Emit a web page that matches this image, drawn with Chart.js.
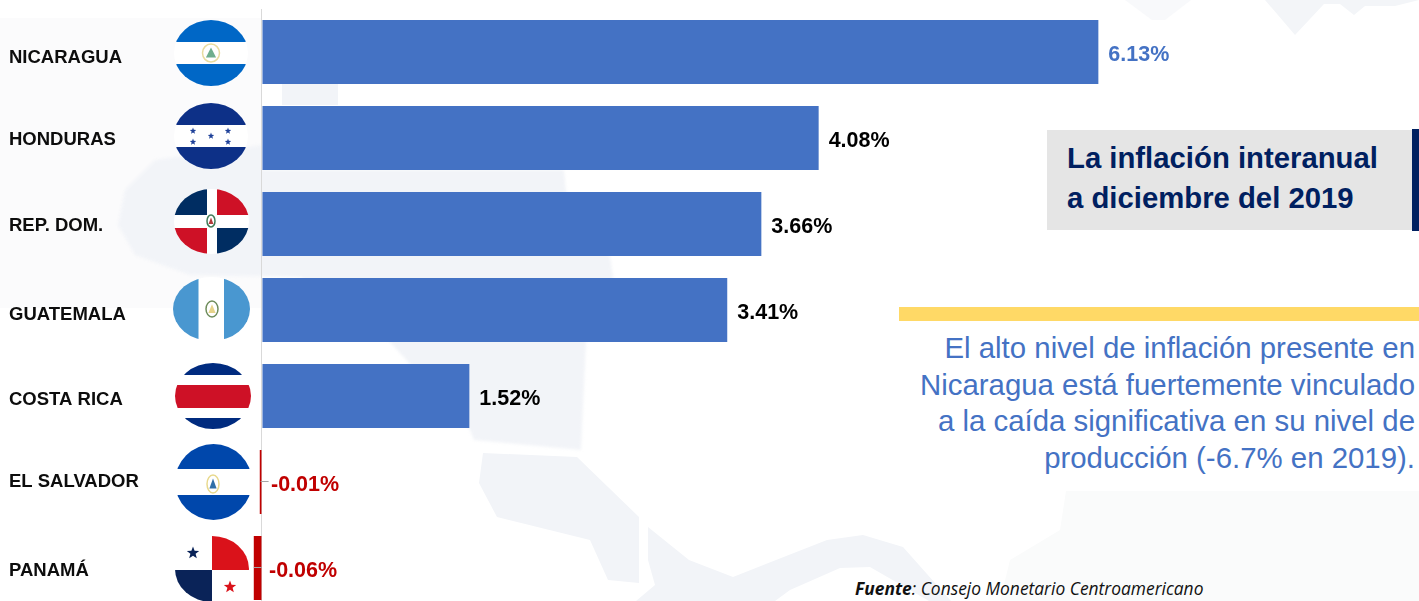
<!DOCTYPE html>
<html lang="es">
<head>
<meta charset="utf-8">
<title>Inflación interanual</title>
<script src="https://cdn.jsdelivr.net/npm/chart.js@4"></script>
<style>
    html, body { margin: 0; padding: 0; background: #fff; }
    body { width: 1419px; height: 601px; overflow: hidden; position: relative; font-family: "Liberation Sans", Arial, sans-serif; }
    #map { position: absolute; left: 0; top: 0; }
    #chartBox { position: absolute; left: 0; top: 0; width: 1419px; height: 625px; }
    .titleBox { position: absolute; left: 1047px; top: 130px; width: 365px; height: 100px; background: #e5e5e5; }
    .titleBar { position: absolute; left: 1412px; top: 129px; width: 7px; height: 102px; background: #002060; }
    .titleText { position: absolute; left: 1067px; top: 138px; font-size: 29.3px; line-height: 40px; font-weight: bold; color: #002060; white-space: nowrap; }
    .yellowBar { position: absolute; left: 899px; top: 307px; width: 520px; height: 14px; background: #ffd966; }
    .note { position: absolute; right: 4px; top: 330px; font-size: 29.4px; line-height: 36.6px; color: #4472c4; text-align: right; white-space: nowrap; }
    .source { position: absolute; left: 855px; top: 578px; font-family: "Open Sans", sans-serif; font-size: 17.4px; line-height: 20px; font-style: italic; color: #111; white-space: nowrap; }
</style>
</head>
<body>
<!-- faint map in the background -->
<svg id="map" width="1419" height="601">
    <rect x="0" y="18" width="262" height="290" fill="#fbfbfc"/>
    <polygon points="1066,491 1419,491 1419,601 1000,601 1010,560 1060,530" fill="#fafbfb"/>
    <polygon points="1125,0 1191,0 1165,20 1152,20" fill="#f8f9fb"/>
    <polygon points="1265,0 1419,0 1395,6 1365,6 1354,15 1340,4 1324,4 1295,35" fill="#f3f5f8"/>
    <polygon points="282,83 338,83 338,105 282,105" fill="#f2f4f8"/>
    <polygon style="filter:blur(1.5px)" points="118,225 125,190 155,160 262,145 262,170 564,170 566,192 610,257 613,277 586,342 581,450 474,440 470,430 390,342 300,277 190,275 135,255" fill="#f2f4f8"/>
    <polygon points="483,453 577,457 639,517 639,583 608,580 590,540 497,517 479,483" fill="#f2f4f8"/>
    <polygon points="648,527 689,560 733,577 827,540 863,535 903,547 951,601 929,601 870,567 840,568 790,590 775,601 636,601 655,585 648,560" fill="#f2f4f8"/>
</svg>

<div class="titleBox"></div>
<div class="titleBar"></div>
<div class="titleText">La inflación interanual<br>a diciembre del 2019</div>
<div class="yellowBar"></div>
<div class="note">El alto nivel de inflación presente en<br>Nicaragua está fuertemente vinculado<br>a la caída significativa en su nivel de<br>producción (-6.7% en 2019).</div>
<div class="source"><b>Fuente</b>: Consejo Monetario Centroamericano</div>

<div id="chartBox"><canvas id="myChart" width="1419" height="625"></canvas></div>

<script>
const countries = ["NICARAGUA", "HONDURAS", "REP. DOM.", "GUATEMALA", "COSTA RICA", "EL SALVADOR", "PANAMÁ"];
const inflation = [6.13, 4.08, 3.66, 3.41, 1.52, -0.01, -0.06];
// the names are not quite centred on their bars in the original
const labelShift = [6, 2, 2, 5, 4, 0, 3];

const BLUE = "#4472c4";
const RED = "#c00000";

function star(ctx, cx, cy, r, color) {
    ctx.fillStyle = color;
    ctx.beginPath();
    for (let i = 0; i < 10; i++) {
        const rad = i % 2 ? r * 0.42 : r;
        const a = -Math.PI / 2 + i * Math.PI / 5;
        ctx.lineTo(cx + rad * Math.cos(a), cy + rad * Math.sin(a));
    }
    ctx.closePath();
    ctx.fill();
}

function rect(ctx, color, x0, y0, x1, y1) {
    ctx.fillStyle = color;
    ctx.fillRect(x0, y0, x1 - x0, y1 - y0);
}

// small coat of arms, just a few dots of colour
function crest(ctx, cx, cy, rx, ry, ring, inner) {
    ctx.strokeStyle = ring;
    ctx.lineWidth = 1.5;
    ctx.beginPath();
    ctx.ellipse(cx, cy, rx, ry, 0, 0, Math.PI * 2);
    ctx.stroke();
    ctx.fillStyle = inner;
    ctx.beginPath();
    ctx.moveTo(cx, cy - ry * 0.6);
    ctx.lineTo(cx + rx * 0.6, cy + ry * 0.5);
    ctx.lineTo(cx - rx * 0.6, cy + ry * 0.5);
    ctx.closePath();
    ctx.fill();
}

function flag(ctx, x0, y0, x1, y1, paint) {
    ctx.save();
    ctx.beginPath();
    ctx.ellipse((x0 + x1) / 2, (y0 + y1) / 2, (x1 - x0) / 2, (y1 - y0) / 2, 0, 0, Math.PI * 2);
    ctx.clip();
    rect(ctx, "#ffffff", x0, y0, x1, y1);
    paint();
    ctx.restore();
}

const flagsPlugin = {
    id: "flags",
    afterDraw: (chart) => {
        const ctx = chart.ctx;
        flag(ctx, 174, 20, 248, 86, () => {
            rect(ctx, "#0067c6", 174, 20, 248, 42);
            rect(ctx, "#0067c6", 174, 64, 248, 86);
            crest(ctx, 211, 53, 8.5, 9, "#e8dca0", "#6fae8e");
        });
        flag(ctx, 174, 103, 248, 169, () => {
            rect(ctx, "#0d3087", 174, 103, 248, 125);
            rect(ctx, "#0d3087", 174, 147, 248, 169);
            [[193, 131], [228, 131], [211, 136], [193, 142], [228, 142]].forEach(p => star(ctx, p[0], p[1], 3.4, "#1f4199"));
        });
        flag(ctx, 174, 189, 249, 254, () => {
            rect(ctx, "#002d62", 174, 189, 207, 215);
            rect(ctx, "#ce1126", 217, 189, 249, 215);
            rect(ctx, "#ce1126", 174, 228, 207, 254);
            rect(ctx, "#002d62", 217, 228, 249, 254);
            crest(ctx, 211, 221, 4, 6, "#3f7a57", "#b33a3a");
        });
        flag(ctx, 173, 277, 250, 341, () => {
            rect(ctx, "#4997d0", 173, 277, 198.5, 341);
            rect(ctx, "#4997d0", 224, 277, 250, 341);
            crest(ctx, 212, 309, 6, 8, "#6f8d5c", "#e6d38a");
        });
        flag(ctx, 175, 363, 251, 429, () => {
            rect(ctx, "#002b7f", 175, 363, 251, 375);
            rect(ctx, "#ce1126", 175, 385, 251, 408);
            rect(ctx, "#002b7f", 175, 418, 251, 429);
        });
        flag(ctx, 175, 444, 252, 520, () => {
            rect(ctx, "#0047ab", 175, 444, 252, 469);
            rect(ctx, "#0047ab", 175, 495, 252, 520);
            crest(ctx, 213, 484, 6, 9, "#e8d98e", "#2f6fa8");
        });
        flag(ctx, 175, 536, 249, 602, () => {
            rect(ctx, "#da121a", 212, 536, 249, 570);
            rect(ctx, "#0a2358", 175, 570, 212, 602);
            star(ctx, 193, 553, 6.5, "#0a2358");
            star(ctx, 230, 587, 6.5, "#da121a");
        });
    }
};

// value at the end of each bar, thin leader on the negative ones
const valueLabels = {
    id: "valueLabels",
    afterUpdate: (chart) => {
        // move the tick labels a little, the items stay cached until next update
        chart.scales.y.getLabelItems().forEach((item, i) => {
            item.options.translation[1] += labelShift[i];
        });
    },
    afterDatasetsDraw: (chart) => {
        const ctx = chart.ctx;
        const x = chart.scales.x;
        const y = chart.scales.y;
        ctx.save();
        ctx.font = "bold 21.5px 'Liberation Sans', Arial, sans-serif";
        ctx.textBaseline = "middle";
        ctx.textAlign = "left";
        inflation.forEach((value, i) => {
            const py = y.getPixelForValue(i);
            const end = x.getPixelForValue(value);
            let px = end + 10;
            if (value < 0) {
                ctx.strokeStyle = "#a6a6a6";
                ctx.lineWidth = 1;
                ctx.beginPath();
                ctx.moveTo(end, py - 0.5);
                ctx.lineTo(end + 8, py - 0.5);
                ctx.stroke();
                px = x.getPixelForValue(0) + (value < -0.03 ? 7 : 9);
            }
            ctx.fillStyle = value < 0 ? RED : (i === 0 ? BLUE : "#000000");
            ctx.fillText(value.toFixed(2) + "%", px, py + 3.5);
        });
        ctx.restore();
    }
};

const myChart = new Chart(document.getElementById("myChart"), {
    type: "bar",
    data: {
        labels: countries,
        datasets: [{
            data: inflation,
            backgroundColor: inflation.map(v => v < 0 ? RED : BLUE),
            barPercentage: 0.745,
            categoryPercentage: 1,
            minBarLength: 2.2
        }]
    },
    options: {
        indexAxis: "y",
        responsive: false,
        animation: false,
        devicePixelRatio: 1,
        layout: { padding: { top: 9, left: 9, right: 0, bottom: 14 } },
        plugins: {
            legend: { display: false },
            tooltip: { enabled: false }
        },
        scales: {
            x: {
                min: -0.5,
                max: 8.48,
                ticks: { display: false, stepSize: 1 },
                border: { display: false },
                grid: {
                    drawTicks: false,
                    lineWidth: 1,
                    color: (c) => c.tick && c.tick.value === 0 ? "#d9d9d9" : "transparent"
                }
            },
            y: {
                afterFit: (scale) => {
                    scale.width = 184.75;
                    // otherwise half a label height is reserved above the first bar
                    scale.paddingTop = 0;
                    scale.paddingBottom = 0;
                },
                border: { display: false },
                grid: { display: false, drawTicks: false },
                ticks: {
                    crossAlign: "far",
                    color: "#0d0d0d",
                    font: { family: "'Liberation Sans', Arial, sans-serif", size: 18.5, weight: "bold" }
                }
            }
        }
    },
    plugins: [valueLabels, flagsPlugin]
});
</script>
</body>
</html>
